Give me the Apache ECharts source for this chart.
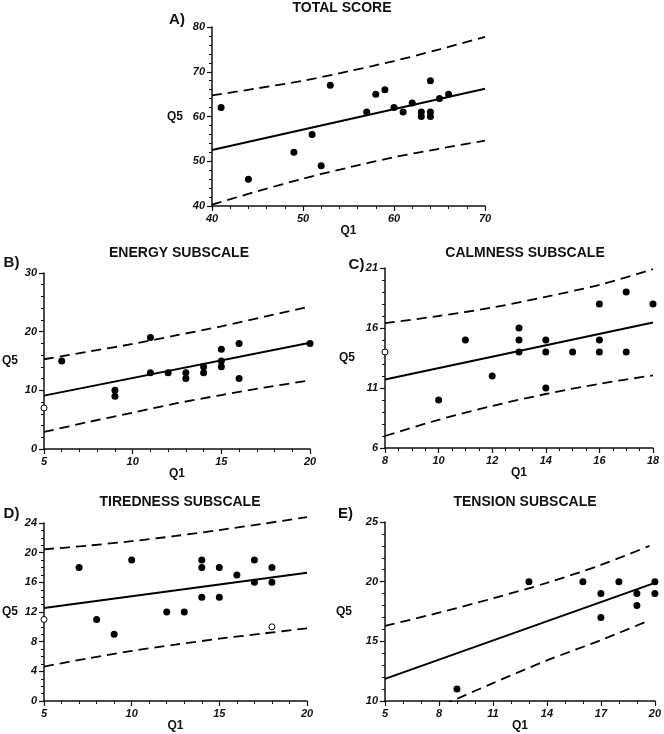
<!DOCTYPE html>
<html>
<head>
<meta charset="utf-8">
<script src="https://cdn.jsdelivr.net/npm/echarts@6/dist/echarts.min.js"></script>
<style>
html,body{margin:0;padding:0;background:#fff;}
#chart{width:664px;height:734px;}
</style>
</head>
<body>
<div id="chart"></div>
<script>
// ---------- DATA ----------
const panelTitles = ['TOTAL SCORE', 'ENERGY SUBSCALE', 'CALMNESS SUBSCALE', 'TIREDNESS SUBSCALE', 'TENSION SUBSCALE'];
const panelLetters = ['A)', 'B)', 'C)', 'D)', 'E)'];
const xName = 'Q1';
const yName = 'Q5';

// A) Total score
const totalPoints = [[41,62],[44,46],[49,52],[51,56],[52,49],[53,67],[57,61],[58,65],[59,66],[60,62],[61,61],[62,63],[63,61],[63,60],[64,68],[64,61],[64,60],[65,64],[66,65]];
const totalOpen = [];
const totalFit = [[40,52.5],[70,66.2]];
const totalUpper = [[40,64.7],[45,66.3],[50,68.0],[55,70.1],[60,72.4],[65,75.0],[70,77.8]];
const totalLower = [[40,40.3],[45,43.3],[50,46.1],[55,48.6],[60,50.9],[65,52.8],[70,54.6]];

// B) Energy subscale
const energyPoints = [[6,15],[9,10],[9,9],[11,19],[11,13],[12,13],[13,13],[13,12],[14,14],[14,13],[15,17],[15,15],[15,14],[16,18],[16,12],[20,18]];
const energyOpen = [[5,7]];
const energyFit = [[5,9.1],[20,18.1]];
const energyUpper = [[5,15.3],[7.5,16.6],[10,17.9],[12.5,19.4],[15,20.9],[17.5,22.6],[20,24.3]];
const energyLower = [[5,2.9],[7.5,4.6],[10,6.2],[12.5,7.8],[15,9.2],[17.5,10.5],[20,11.7]];

// C) Calmness subscale
const calmPoints = [[10,10],[11,15],[12,12],[13,16],[13,15],[13,14],[14,15],[14,14],[14,11],[15,14],[16,18],[16,15],[16,14],[17,19],[17,14],[18,18]];
const calmOpen = [[8,14]];
const calmFit = [[8,11.7],[18,16.45]];
const calmUpper = [[8,16.4],[10,17.0],[12,17.7],[14,18.6],[16,19.6],[18,20.9]];
const calmLower = [[8,7.0],[10,8.35],[12,9.5],[14,10.5],[16,11.35],[18,12.05]];

// D) Tiredness subscale
const tiredPoints = [[7,18],[8,11],[9,9],[10,19],[12,12],[13,12],[14,19],[14,18],[14,14],[15,18],[15,14],[16,17],[17,19],[17,16],[18,18],[18,16]];
const tiredOpen = [[5,11],[18,10]];
const tiredFit = [[5,12.55],[20,17.3]];
const tiredUpper = [[5,20.45],[7.5,20.95],[10,21.55],[12.5,22.25],[15,23.05],[17.5,23.9],[20,24.8]];
const tiredLower = [[5,4.65],[7.5,5.75],[10,6.75],[12.5,7.6],[15,8.4],[17.5,9.1],[20,9.8]];

// E) Tension subscale
const tensionPoints = [[9,11],[13,20],[16,20],[17,19],[17,17],[18,20],[19,19],[19,18],[20,20],[20,19]];
const tensionOpen = [];
const tensionFit = [[5,11.85],[20,19.9]];
const tensionUpper = [[5,16.3],[8,17.4],[11,18.6],[14,19.9],[17,21.4],[19.7,23.0]];
const tensionLower = [[5,7.3],[8,9.5],[11,11.5],[14,13.4],[17,15.1],[19.6,16.7]];

// axis ranges: [min, max, interval, minorSplit]
const xRanges = [[40,70,10,5],[5,20,5,5],[8,18,2,4],[5,20,5,5],[5,20,3,3]];
const yRanges = [[40,80,10,5],[0,30,10,5],[6,21,5,5],[0,24,4,4],[10,25,5,5]];

// ---------- LAYOUT / STYLE ----------
const FONT = "'Liberation Sans', Arial, Helvetica, sans-serif";
const grids = [
  {left:212, top:27, width:273, height:179},
  {left:43,  top:273, width:267, height:176},
  {left:385, top:268, width:268, height:180},
  {left:43,  top:523, width:264, height:178},
  {left:385, top:522, width:271, height:179}
];
const yNameGaps = [29, 26, 30, 26, 33];
const titlePos = [[342,8],[179,253],[525,253],[180,502],[525,502]];
const letterPos = [[177,19.5],[11.5,263],[356.5,264.5],[11.5,514],[345.5,514]];
const lowerClip = [false, false, false, false, true];

const panels = [
  {pts: totalPoints, open: totalOpen, fit: totalFit, up: totalUpper, lo: totalLower},
  {pts: energyPoints, open: energyOpen, fit: energyFit, up: energyUpper, lo: energyLower},
  {pts: calmPoints, open: calmOpen, fit: calmFit, up: calmUpper, lo: calmLower},
  {pts: tiredPoints, open: tiredOpen, fit: tiredFit, up: tiredUpper, lo: tiredLower},
  {pts: tensionPoints, open: tensionOpen, fit: tensionFit, up: tensionUpper, lo: tensionLower}
];

const axisColor = '#111';
const labelStyle = {fontFamily: FONT, fontStyle:'italic', fontWeight:'bold', fontSize:11, color:'#111'};
const nameStyle = {fontFamily: FONT, fontWeight:'bold', fontSize:12, color:'#111'};

const xAxes = [], yAxes = [], series = [], graphics = [];
panels.forEach((p, i) => {
  const xr = xRanges[i], yr = yRanges[i];
  const common = {
    axisLine:{show:true, onZero:false, lineStyle:{color:axisColor, width:1.5}},
    axisTick:{show:true, inside:false, length:5, lineStyle:{color:axisColor, width:1.2}},
    axisLabel:Object.assign({margin:7}, labelStyle),
    splitLine:{show:false}, minorSplitLine:{show:false}
  };
  xAxes.push(Object.assign({
    type:'value', gridIndex:i, min:xr[0], max:xr[1], interval:xr[2],
    name:xName, nameLocation:'middle', nameGap:17, nameTextStyle:nameStyle,
    minorTick:{show:true, splitNumber:xr[3], length:3, lineStyle:{color:axisColor, width:1}}
  }, common));
  yAxes.push(Object.assign({
    type:'value', gridIndex:i, min:yr[0], max:yr[1], interval:yr[2],
    name:yName, nameLocation:'middle', nameRotate:0, nameGap:yNameGaps[i], nameTextStyle:nameStyle,
    minorTick:{show:true, splitNumber:yr[3], length:3, lineStyle:{color:axisColor, width:1}}
  }, common));
  series.push({
    type:'line', xAxisIndex:i, yAxisIndex:i, data:p.fit, symbol:'none', clip:false, z:2,
    lineStyle:{color:'#000', width:2}, silent:true
  });
  series.push({
    type:'line', xAxisIndex:i, yAxisIndex:i, data:p.up, symbol:'none', smooth:0.3, clip:false, z:2,
    lineStyle:{color:'#000', width:1.8, type:[10,6]}, silent:true
  });
  series.push({
    type:'line', xAxisIndex:i, yAxisIndex:i, data:p.lo, symbol:'none', smooth:0.3, clip:lowerClip[i], z:2,
    lineStyle:{color:'#000', width:1.8, type:[10,6]}, silent:true
  });
  series.push({
    type:'scatter', xAxisIndex:i, yAxisIndex:i, data:p.pts, symbol:'circle', symbolSize:7, z:4,
    itemStyle:{color:'#000', opacity:1}, clip:false
  });
  if (p.open.length) {
    series.push({
      type:'scatter', xAxisIndex:i, yAxisIndex:i, data:p.open, symbol:'circle', symbolSize:6, z:5,
      itemStyle:{color:'#fff', borderColor:'#000', borderWidth:1, opacity:1}, clip:false
    });
  }
  graphics.push({
    type:'text', x:titlePos[i][0], y:titlePos[i][1], z:10,
    style:{text:panelTitles[i], font:"bold 14px " + FONT, fill:'#111', align:'center', verticalAlign:'middle'}
  });
  graphics.push({
    type:'text', x:letterPos[i][0], y:letterPos[i][1], z:10,
    style:{text:panelLetters[i], font:"bold 15px " + FONT, fill:'#111', align:'center', verticalAlign:'middle'}
  });
});

const chart = echarts.init(document.getElementById('chart'), null, {renderer:'canvas'});
chart.setOption({
  backgroundColor:'#fff',
  animation:false,
  grid:grids,
  xAxis:xAxes,
  yAxis:yAxes,
  series:series,
  graphic:graphics
});
</script>
</body>
</html>
